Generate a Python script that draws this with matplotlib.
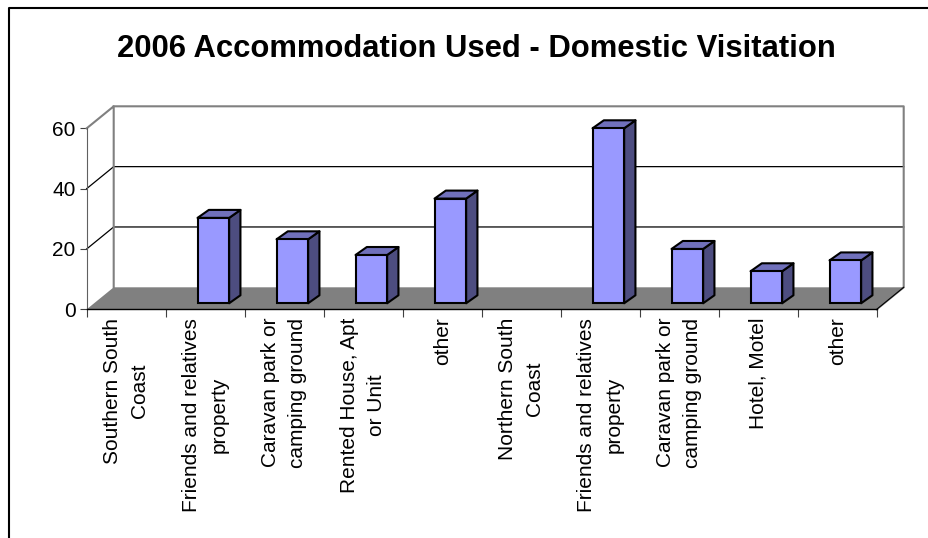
import numpy as np
import matplotlib
matplotlib.use('Agg')
import matplotlib.pyplot as plt
from matplotlib.patches import Polygon
from matplotlib.lines import Line2D

plt.rcParams['font.family'] = ['Liberation Sans', 'DejaVu Sans']

W, H = 929, 538

categories = ['Southern South\nCoast', 'Friends and relatives\nproperty',
              'Caravan park or\ncamping ground', 'Rented House, Apt\nor Unit', 'other',
              'Northern South\nCoast', 'Friends and relatives\nproperty',
              'Caravan park or\ncamping ground', 'Hotel, Motel', 'other']
values = [0, 28.3, 21.2, 16, 34.7, 0, 58, 18, 10.6, 14.2]
yticks = [0, 20, 40, 60]
title = '2006 Accommodation Used - Domestic Visitation'

# depth of the fake 3d box, in data units
wall_dx, wall_dy = 27 / 79, 22 / 3.017
bar_off_x, bar_off_y = 0.103, 2.0
bar_dx, bar_dy = 11.3 / 79, 2.65
bar_w = 0.40

fig = plt.figure(figsize=(W / 100, H / 100), dpi=100)
ax = fig.add_axes([86.7 / W, 1 - 309.3 / H, 790 / W, 181 / H])
ax.set_xlim(0, 10)
ax.set_ylim(0, 60)
for s in ['top', 'right']:
    ax.spines[s].set_visible(False)
ax.patch.set_visible(False)
ax.spines['left'].set_color('#606060')
ax.spines['left'].set_linewidth(0.8)
ax.spines['bottom'].set_color('black')
ax.spines['bottom'].set_linewidth(1)

# floor
ax.add_patch(Polygon([(0, 0), (10, 0), (10 + wall_dx, wall_dy), (wall_dx, wall_dy)],
                     fc='#808080', ec='none', clip_on=False, zorder=1))
# gridlines on the wall and the side wall
for v in yticks[1:3]:
    ax.plot([0, wall_dx, 10 + wall_dx], [v, v + wall_dy, v + wall_dy], color='black',
            lw=0.9, clip_on=False, zorder=1.5)
# wall edges
ax.plot([0, wall_dx, wall_dx], [60, 60 + wall_dy, wall_dy], color='#808080', lw=1.5,
        clip_on=False, zorder=1.6)
ax.plot([wall_dx, 10 + wall_dx, 10 + wall_dx, 10], [60 + wall_dy, 60 + wall_dy, wall_dy, 0],
        color='#808080', lw=1.5, clip_on=False, zorder=1.6)
ax.plot([10, 10 + wall_dx], [0, wall_dy], color='black', lw=0.8, clip_on=False, zorder=1.6)

# bars, empty heading categories get nothing
for i, v in enumerate(values):
    if v == 0:
        continue
    xi = i + 0.5 + bar_off_x
    ax.bar(xi, v, width=bar_w, bottom=bar_off_y, color='#9999ff', edgecolor='black',
           linewidth=1.5, clip_on=False, zorder=3)
    l, r = xi - bar_w / 2, xi + bar_w / 2
    b, t = bar_off_y, bar_off_y + v
    ax.add_patch(Polygon([(r, b), (r + bar_dx, b + bar_dy), (r + bar_dx, t + bar_dy), (r, t)],
                         fc='#4d4d80', ec='black', lw=1.5, joinstyle='round',
                         clip_on=False, zorder=2.8))
    ax.add_patch(Polygon([(l, t), (r, t), (r + bar_dx, t + bar_dy), (l + bar_dx, t + bar_dy)],
                         fc='#7070bb', ec='black', lw=1.5, joinstyle='round',
                         clip_on=False, zorder=2.8))

ax.set_yticks(yticks)
ax.tick_params(axis='y', labelsize=15, length=5, width=0.8, color='#404040', pad=3)
ax.set_xticks(np.arange(0, 11))
ax.set_xticklabels([])
ax.tick_params(axis='x', which='major', length=6, width=0.8, color='#404040')
ax.set_xticks(np.arange(len(categories)) + 0.5, minor=True)
ax.set_xticklabels(categories, minor=True, rotation=90, ha='center', va='top',
                   multialignment='center', fontsize=15, linespacing=1.55)
ax.tick_params(axis='x', which='minor', length=0, pad=6)

fig.text(476.5 / W, 1 - 49 / H, title, ha='center', va='center', fontsize=22.3,
         fontweight='bold')

# chart frame, only left and top are in the picture
fig.add_artist(Line2D([9 / W, 9 / W, 1], [0, 1 - 8 / H, 1 - 8 / H],
                      color='black', lw=1.5, transform=fig.transFigure))

fig.savefig('out.png', dpi=100)
